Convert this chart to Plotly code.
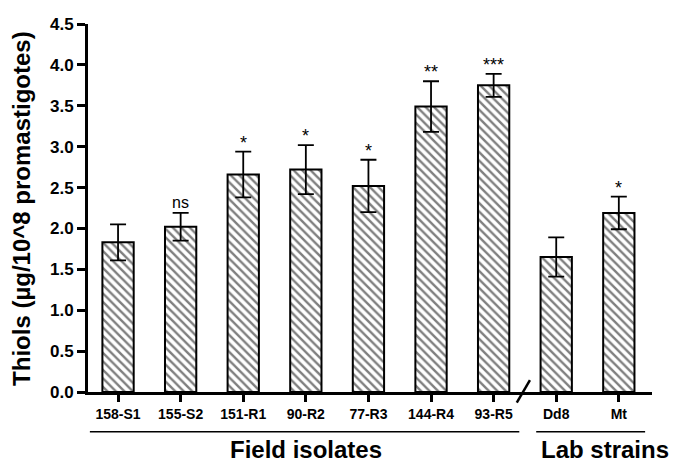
import plotly.graph_objects as go

categories = ["158-S1", "155-S2", "151-R1", "90-R2", "77-R3", "144-R4", "93-R5", "Dd8", "Mt"]
means = [1.83, 2.02, 2.66, 2.72, 2.52, 3.49, 3.75, 1.65, 2.19]
errors = [0.22, 0.17, 0.28, 0.30, 0.32, 0.31, 0.14, 0.24, 0.20]
signif = ["", "ns", "*", "*", "*", "**", "***", "", "*"]
y_ticks = [0.0, 0.5, 1.0, 1.5, 2.0, 2.5, 3.0, 3.5, 4.0, 4.5]
groups = [("Field isolates", 0, 6), ("Lab strains", 7, 8)]

xpos = list(range(len(categories)))
FONT = "Arial, Liberation Sans, sans-serif"

fig = go.Figure()
fig.add_trace(go.Bar(
    x=xpos, y=means, width=0.5,
    marker=dict(color="white", line=dict(color="black", width=2),
                pattern=dict(shape="\\", fgcolor="black", bgcolor="white", size=6, solidity=0.4)),
    error_y=dict(type="data", array=errors, visible=True, color="black", thickness=1.8, width=8),
    showlegend=False,
))

for x, m, e, s in zip(xpos, means, errors, signif):
    if s:
        fig.add_annotation(x=x, y=m + e, text=s, showarrow=False, yanchor="bottom",
                           yshift=-3 if "*" in s else 0,
                           font=dict(family=FONT, size=18 if "*" in s else 16, color="black"))

# group lines and labels
group_lines = {"Field isolates": (-0.45, 6.41, 3.0), "Lab strains": (6.68, 8.42, 7.78)}
for name, a, b in groups:
    x0, x1, xc = group_lines[name]
    fig.add_shape(type="line", xref="x", yref="paper", x0=x0, x1=x1,
                  y0=-0.108, y1=-0.108, line=dict(color="black", width=1.5))
    fig.add_annotation(xref="x", yref="paper", x=xc, y=-0.1565,
                       text="<b>%s</b>" % name, showarrow=False, yanchor="middle",
                       font=dict(family=FONT, size=24, color="black"))

# y-axis title
fig.add_annotation(xref="paper", yref="paper", x=-0.119, y=0.5, textangle=-90,
                   text="<b>Thiols (µg/10^8 promastigotes)</b>", showarrow=False,
                   xanchor="center", yanchor="middle",
                   font=dict(family=FONT, size=24, color="black"))

# axis break slash
fig.add_shape(type="line", xref="x", yref="paper", x0=6.37, x1=6.58, y0=-0.029, y1=0.032,
              line=dict(color="black", width=2.5))

fig.update_layout(
    width=675, height=460,
    margin=dict(l=80, r=31, t=7, b=76),
    plot_bgcolor="white", paper_bgcolor="white",
    font=dict(family=FONT, color="black"),
)
fig.update_xaxes(
    range=[-0.48, 8.53], tickmode="array", tickvals=xpos,
    ticktext=["<b>%s</b>" % c for c in categories],
    tickfont=dict(family=FONT, size=14, color="black"),
    showline=True, linecolor="black", linewidth=3,
    ticks="outside", ticklen=7, tickwidth=3, tickcolor="black",
    showgrid=False, zeroline=False, fixedrange=True,
)
fig.update_yaxes(
    range=[0, 4.5], tickmode="array", tickvals=y_ticks,
    ticktext=["<b>%.1f</b>" % t for t in y_ticks],
    tickfont=dict(family=FONT, size=17, color="black"),
    ticklabeloverflow="allow",
    showline=True, linecolor="black", linewidth=3,
    ticks="outside", ticklen=8, tickwidth=3, tickcolor="black",
    showgrid=False, zeroline=False,
)

fig.write_html("out.html")
